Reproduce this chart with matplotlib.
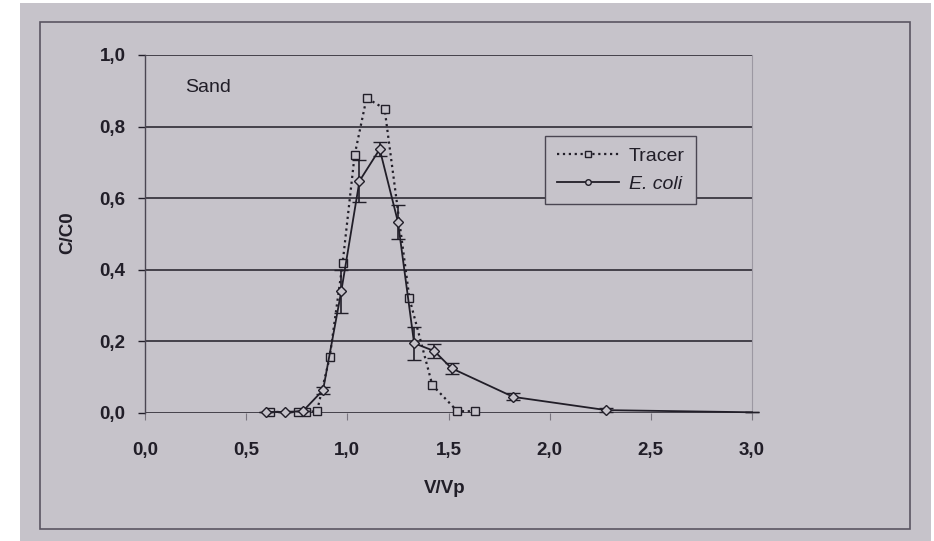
import matplotlib.pyplot as plt
from matplotlib.patches import Rectangle
from matplotlib.lines import Line2D

# data
tracer_x = [0.62, 0.755, 0.794, 0.85, 0.913, 0.977, 1.036, 1.095, 1.184, 1.307, 1.42, 1.544, 1.633]
tracer_y = [0.003, 0.003, 0.003, 0.005, 0.156, 0.42, 0.72, 0.88, 0.85, 0.32, 0.078, 0.005, 0.005]

ecoli_x = [0.60, 0.69, 0.78, 0.88, 0.97, 1.06, 1.16, 1.25, 1.33, 1.43, 1.515, 1.82, 2.28, 3.0]
ecoli_y = [0.003, 0.003, 0.005, 0.064, 0.34, 0.648, 0.737, 0.534, 0.195, 0.173, 0.125, 0.045, 0.008, 0.002]
ecoli_err = [0, 0, 0, 0.01, 0.06, 0.058, 0.02, 0.048, 0.046, 0.02, 0.015, 0.01, 0.005, 0]

x_ticks = [0.0, 0.5, 1.0, 1.5, 2.0, 2.5, 3.0]
y_ticks = [0.0, 0.2, 0.4, 0.6, 0.8, 1.0]

paper = '#c6c3ca'
ink = '#211e28'
W, H = 934, 541

plt.rcParams['font.family'] = ['Liberation Sans', 'DejaVu Sans']

fig = plt.figure(figsize=(W / 100, H / 100), dpi=100, facecolor='white')

# photo background and the printed frame
fig.patches.append(Rectangle((20 / W, 0), 911 / W, 538 / H, transform=fig.transFigure,
                             facecolor=paper, edgecolor='none', zorder=-10))
fig.patches.append(Rectangle((40 / W, (H - 529) / H), 870 / W, 507 / H, transform=fig.transFigure,
                             facecolor='none', edgecolor='#5a5562', lw=1.2, zorder=-5))

ax = fig.add_axes([145 / W, (H - 413) / H, 607 / W, 358 / H])
ax.set_facecolor(paper)
ax.set_xlim(0, 3)
ax.set_ylim(0, 1)

for y in y_ticks:
    ax.axhline(y, color=ink, lw=1.1, zorder=1)

ax.plot(tracer_x, tracer_y, ls=':', lw=1.6, color=ink, marker='s', ms=6,
        mfc=paper, mec=ink, mew=1.0, zorder=3, clip_on=False)
ax.errorbar(ecoli_x, ecoli_y, yerr=ecoli_err, ls='-', lw=1.3, color=ink, marker='D', ms=5,
            mfc=paper, mec=ink, mew=1.0, capsize=5, elinewidth=1.2, capthick=1.2,
            markevery=list(range(len(ecoli_x) - 1)), zorder=4, clip_on=False)

ax.spines['top'].set_visible(False)
ax.spines['bottom'].set_visible(False)
ax.spines['right'].set_color('#9c98a2')
ax.spines['right'].set_linewidth(0.8)
ax.spines['left'].set_color('#4a4652')
ax.spines['left'].set_linewidth(1.0)

ax.set_xticks(x_ticks)
ax.set_yticks(y_ticks)
ax.set_xticklabels([f'{v:.1f}'.replace('.', ',') for v in x_ticks])
ax.set_yticklabels([f'{v:.1f}'.replace('.', ',') for v in y_ticks])
ax.tick_params(axis='x', length=5, width=0.8, color='#7a7680', pad=16,
               labelsize=13.5, labelcolor=ink)
ax.tick_params(axis='y', length=5, width=1.0, color=ink, pad=9,
               labelsize=13.5, labelcolor=ink)
for lbl in ax.get_xticklabels() + ax.get_yticklabels():
    lbl.set_fontweight('bold')

ax.text(0.494, -0.21, 'V/Vp', transform=ax.transAxes, ha='center', va='center',
        fontsize=13.5, fontweight='bold', color=ink)
ax.text(-0.127, 0.503, 'C/C0', transform=ax.transAxes, ha='center', va='center',
        rotation=90, fontsize=13.5, fontweight='bold', color=ink)
ax.text(0.066, 0.908, 'Sand', transform=ax.transAxes, ha='left', va='center',
        fontsize=14, color=ink)

handles = [
    Line2D([], [], ls=':', lw=1.6, color=ink, marker='s', ms=5, mfc=paper, mec=ink),
    Line2D([], [], ls='-', lw=1.3, color=ink, marker='o', ms=4, mfc=paper, mec=ink),
]
leg = ax.legend(handles, ['Tracer', 'E. coli'], loc='upper left', bbox_to_anchor=(0.659, 0.774),
                borderaxespad=0, frameon=True, fancybox=False, fontsize=14,
                handlelength=3.2, handletextpad=0.5, borderpad=0.6, labelspacing=0.5)
leg.get_frame().set_facecolor(paper)
leg.get_frame().set_edgecolor('#4a4652')
leg.get_frame().set_linewidth(1.0)
leg.get_frame().set_alpha(1)
leg.get_texts()[1].set_fontstyle('italic')
for t in leg.get_texts():
    t.set_color(ink)
leg.set_zorder(10)

fig.savefig('out.png', dpi=100, facecolor='white')
